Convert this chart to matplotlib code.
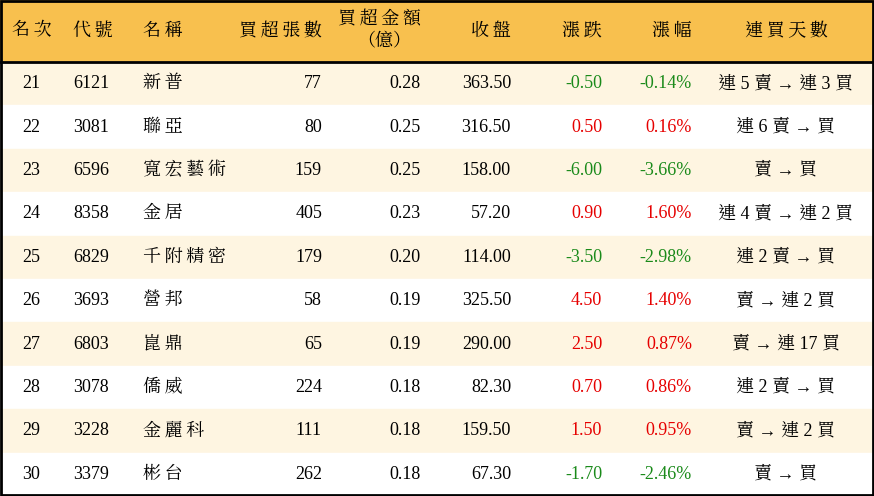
import matplotlib.pyplot as plt
from matplotlib.patches import Rectangle

ranks = [21, 22, 23, 24, 25, 26, 27, 28, 29, 30]
codes = ['6121', '3081', '6596', '8358', '6829', '3693', '6803', '3078', '3228', '3379']
names = ['新普', '聯亞', '寬宏藝術', '金居', '千附精密', '營邦', '崑鼎', '僑威', '金麗科', '彬台']
lots = [77, 80, 159, 405, 179, 58, 65, 224, 111, 262]
amounts = [0.28, 0.25, 0.25, 0.23, 0.20, 0.19, 0.19, 0.18, 0.18, 0.18]
closes = [363.50, 316.50, 158.00, 57.20, 114.00, 325.50, 290.00, 82.30, 159.50, 67.30]
changes = [-0.50, 0.50, -6.00, 0.90, -3.50, 4.50, 2.50, 0.70, 1.50, -1.70]
pcts = [-0.14, 0.16, -3.66, 1.60, -2.98, 1.40, 0.87, 0.86, 0.95, -2.46]
streaks = ['連 5 賣 → 連 3 買', '連 6 賣 → 買', '賣 → 買', '連 4 賣 → 連 2 買', '連 2 賣 → 買',
           '賣 → 連 2 買', '賣 → 連 17 買', '連 2 賣 → 買', '賣 → 連 2 買', '賣 → 買']

plt.rcParams['font.family'] = ['Liberation Serif', 'Noto Serif CJK TC', 'Noto Sans CJK TC']
W, H = 874, 496
HEAD = 62
ROW = (H - HEAD) / len(ranks)
FS = 13
GREEN, RED = '#1a8a1a', '#e60000'


def spaced(s):
    # the reference spreads CJK characters apart a little
    return '\u2009'.join(s)


fig = plt.figure(figsize=(W / 100, H / 100), dpi=100)
ax = fig.add_axes([0, 0, 1, 1])
ax.set_xlim(0, W)
ax.set_ylim(H, 0)
ax.axis('off')

ax.add_patch(Rectangle((0, 0), W, HEAD, color='#f8c04e', zorder=0))
for i in range(len(ranks)):
    color = '#fef5e1' if i % 2 == 0 else 'white'
    ax.add_patch(Rectangle((0, HEAD + i * ROW), W, ROW, color=color, zorder=0))
ax.plot([0, W], [HEAD, HEAD], color='black', lw=2)
ax.add_patch(Rectangle((1, 1), W - 2, H - 2, fill=False, ec='black', lw=2))

# header
hy = HEAD / 2
ax.text(12, hy, spaced('名次'), ha='left', va='center', fontsize=FS)
ax.text(73, hy, spaced('代號'), ha='left', va='center', fontsize=FS)
ax.text(143, hy, spaced('名稱'), ha='left', va='center', fontsize=FS)
ax.text(322, hy, spaced('買超張數'), ha='right', va='center', fontsize=FS)
ax.text(421, 19, spaced('買超金額'), ha='right', va='center', fontsize=FS)
ax.text(384, 41, '（億）', ha='center', va='center', fontsize=FS)
ax.text(511, hy, spaced('收盤'), ha='right', va='center', fontsize=FS)
ax.text(602, hy, spaced('漲跌'), ha='right', va='center', fontsize=FS)
ax.text(692, hy, spaced('漲幅'), ha='right', va='center', fontsize=FS)
ax.text(786, hy, spaced('連買天數'), ha='center', va='center', fontsize=FS)

for i in range(len(ranks)):
    y = HEAD + (i + 0.5) * ROW
    c = GREEN if changes[i] < 0 else RED
    ax.text(31, y, str(ranks[i]), ha='center', va='center', fontsize=FS)
    ax.text(73, y, codes[i], ha='left', va='center', fontsize=FS)
    ax.text(143, y, spaced(names[i]), ha='left', va='center', fontsize=FS)
    ax.text(322, y, str(lots[i]), ha='right', va='center', fontsize=FS)
    ax.text(421, y, f'{amounts[i]:.2f}', ha='right', va='center', fontsize=FS)
    ax.text(511, y, f'{closes[i]:.2f}', ha='right', va='center', fontsize=FS)
    ax.text(602, y, f'{changes[i]:.2f}', ha='right', va='center', fontsize=FS, color=c)
    ax.text(692, y, f'{pcts[i]:.2f}%', ha='right', va='center', fontsize=FS, color=c)
    ax.text(786, y, streaks[i], ha='center', va='center', fontsize=FS)

fig.savefig('out.png', dpi=100)
